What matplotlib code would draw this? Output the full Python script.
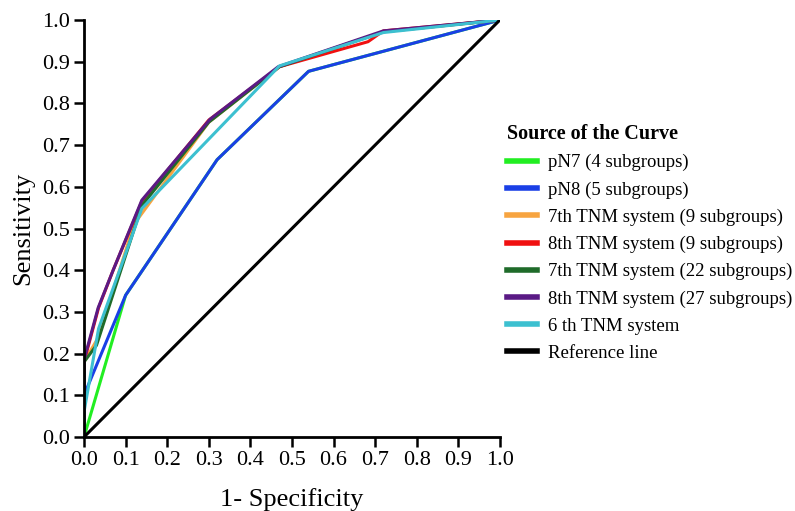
import matplotlib.pyplot as plt

plt.rcParams['font.family'] = ['Liberation Serif', 'DejaVu Serif']

# ROC points (1-specificity, sensitivity)
pn7_x = [0.0, 0.10, 0.32, 0.54, 1.0]
pn7_y = [0.0, 0.34, 0.665, 0.877, 1.0]

pn8_x = [0.0, 0.0, 0.10, 0.32, 0.54, 1.0]
pn8_y = [0.0, 0.10, 0.34, 0.665, 0.877, 1.0]

tnm7_9_x = [0.0, 0.0, 0.035, 0.12, 0.30, 0.47, 0.72, 1.0]
tnm7_9_y = [0.0, 0.18, 0.24, 0.51, 0.755, 0.888, 0.972, 1.0]

tnm8_9_x = [0.0, 0.0, 0.035, 0.07, 0.139, 0.30, 0.47, 0.683, 0.72, 1.0]
tnm8_9_y = [0.0, 0.18, 0.31, 0.40, 0.565, 0.76, 0.888, 0.948, 0.974, 1.0]

tnm7_22_x = [0.0, 0.0, 0.03, 0.139, 0.30, 0.47, 0.72, 1.0]
tnm7_22_y = [0.0, 0.18, 0.22, 0.555, 0.755, 0.888, 0.972, 1.0]

tnm8_27_x = [0.0, 0.0, 0.034, 0.07, 0.139, 0.303, 0.467, 0.72, 1.0]
tnm8_27_y = [0.0, 0.185, 0.31, 0.40, 0.568, 0.762, 0.888, 0.974, 1.0]

tnm6_x = [0.0, 0.0, 0.035, 0.139, 0.47, 0.72, 1.0]
tnm6_y = [0.0, 0.06, 0.26, 0.548, 0.89, 0.97, 1.0]

series = [
    ('pN7 (4 subgroups)', pn7_x, pn7_y, '#22ee22'),
    ('pN8 (5 subgroups)', pn8_x, pn8_y, '#1a3fe6'),
    ('7th TNM system (9 subgroups)', tnm7_9_x, tnm7_9_y, '#f7a440'),
    ('8th TNM system (9 subgroups)', tnm8_9_x, tnm8_9_y, '#f01010'),
    ('7th TNM system (22 subgroups)', tnm7_22_x, tnm7_22_y, '#1f6b2a'),
    ('8th TNM system (27 subgroups)', tnm8_27_x, tnm8_27_y, '#5a1a85'),
    ('6 th TNM system', tnm6_x, tnm6_y, '#3cc0d0'),
]

fig = plt.figure(figsize=(7.95, 5.11), dpi=100)
ax = fig.add_axes([0.1057, 0.1448, 0.523, 0.816])

handles = []
for label, xs, ys, col in series:
    h, = ax.plot(xs, ys, color=col, lw=2.2, label=label)
    handles.append(h)
ref, = ax.plot([0, 1], [0, 1], color='black', lw=2.2, label='Reference line')
handles.append(ref)

ax.set_xlim(0, 1)
ax.set_ylim(0, 1)
ticks = [i / 10 for i in range(11)]
ax.set_xticks(ticks)
ax.set_yticks(ticks)
ax.set_xticklabels(['%.1f' % t for t in ticks])
ax.set_yticklabels(['%.1f' % t for t in ticks])
ax.tick_params(direction='out', length=7, width=1.8, labelsize=16, pad=3)
for s in ['top', 'right']:
    ax.spines[s].set_visible(False)
for s in ['left', 'bottom']:
    ax.spines[s].set_linewidth(2)
ax.set_xlabel('1- Specificity', fontsize=19, labelpad=13)
ax.set_ylabel('Sensitivity', fontsize=19, labelpad=6)

leg = fig.legend(handles=handles, loc='upper left', bbox_to_anchor=(0.638, 0.757),
                 frameon=False, fontsize=13.5, title='Source of the Curve',
                 title_fontproperties={'weight': 'bold', 'size': 14.5},
                 handlelength=1.6, handletextpad=0.6, labelspacing=0.53,
                 borderpad=0, borderaxespad=0, alignment='left')
for lh in leg.get_lines():
    lh.set_linewidth(4)

fig.savefig('out.png', dpi=100)
